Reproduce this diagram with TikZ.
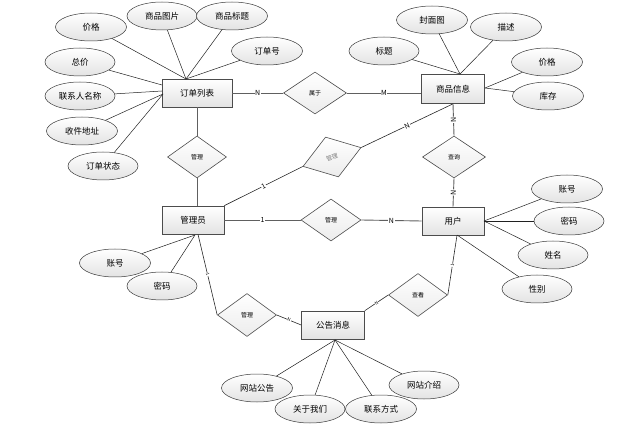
\documentclass[tikz,border=0pt]{standalone}
\usepackage{fontspec}
\setmainfont{Noto Sans CJK SC}
\usetikzlibrary{shapes.geometric}
\begin{document}
\begin{tikzpicture}[x=1pt,y=-1pt,
 ent/.style={rectangle, draw=gray!60!black, line width=0.7pt, top color=white, bottom color=gray!22, minimum width=#1, minimum height=28pt, inner sep=0pt, font=\fontsize{8.5}{10}\selectfont},
 attr/.style={ellipse, draw=gray!45!black, line width=0.5pt, top color=white, bottom color=gray!22, minimum width=71pt, minimum height=28pt, inner sep=0pt, font=\fontsize{8.5}{10}\selectfont},
 rel/.style={diamond, draw=gray!60!black, line width=0.6pt, top color=white, bottom color=gray!15, minimum width=60pt, minimum height=42pt, inner sep=0pt, font=\fontsize{6}{7}\selectfont},
 link/.style={draw=gray!75!black, line width=0.9pt},
 thinlink/.style={draw=gray!30!black, line width=0.6pt},
 aline/.style={draw=gray!25!black, line width=0.5pt},
 lab/.style={fill=white, inner sep=0.5pt, font=\fontsize{7}{7}\selectfont},
 tinylab/.style={fill=white, inner sep=0.3pt, font=\fontsize{4.5}{5}\selectfont}]
\useasboundingbox (0,0) rectangle (621,446);

% entities
\node[ent=70pt] (od) at (197,93) {订单列表};
\node[ent=63pt, minimum height=29pt] (sp) at (453,89) {商品信息};
\node[ent=62pt] (adm) at (193,220) {管理员};
\node[ent=62pt] (usr) at (453,221) {用户};
\node[ent=63pt] (ann) at (333,325) {公告消息};

% relations
\node[rel, minimum width=63pt] (d1) at (315,93) {属于};
\node[rel, minimum width=59pt] (d2) at (197,157) {管理};
\node[rel, minimum width=61pt, rotate=18, text=gray] (d3) at (332,157) {管理};
\node[rel] (d4) at (331,220) {管理};
\node[rel, minimum width=63pt] (d5) at (454,157) {查询};
\node[rel, minimum width=59pt, minimum height=43pt] (d6) at (247,315) {管理};
\node[rel, minimum width=59pt, minimum height=43pt] (d7) at (418,295) {查看};

% attributes of 订单列表
\node[attr] (a1) at (91,27) {价格};
\node[attr, minimum width=70pt] (a2) at (162,16) {商品图片};
\node[attr] (a3) at (232,16) {商品标题};
\node[attr] (a4) at (267,51) {订单号};
\node[attr, minimum width=70pt] (a5) at (80,62) {总价};
\node[attr, minimum width=70pt] (a6) at (80,96) {联系人名称};
\node[attr] (a7) at (82,131) {收件地址};
\node[attr, minimum width=70pt] (a8) at (103,166) {订单状态};

% attributes of 商品信息
\node[attr] (b1) at (432,20) {封面图};
\node[attr] (b2) at (506,27) {描述};
\node[attr, minimum width=70pt] (b3) at (384,51) {标题};
\node[attr] (b4) at (547,62) {价格};
\node[attr] (b5) at (548,96) {库存};

% attributes of 用户
\node[attr] (c1) at (567,189) {账号};
\node[attr, minimum width=70pt] (c2) at (569,221) {密码};
\node[attr, minimum width=70pt] (c3) at (553,255) {姓名};
\node[attr, minimum width=70pt] (c4) at (537,289) {性别};

% attributes of 管理员
\node[attr] (e1) at (115,263) {账号};
\node[attr, minimum width=70pt] (e2) at (162,286) {密码};

% attributes of 公告消息
\node[attr] (f1) at (257,388) {网站公告};
\node[attr, minimum width=70pt] (f2) at (310,409) {关于我们};
\node[attr] (f3) at (381,409) {联系方式};
\node[attr, minimum width=70pt] (f4) at (424,385) {网站介绍};

% attachment points
\coordinate (odT) at (186,79);
\coordinate (odL1) at (162,85);
\coordinate (odL2) at (162,91);
\coordinate (odL3) at (163,94);
\coordinate (spT) at (460,74);
\coordinate (spR) at (485,88);
\coordinate (usrR) at (484,221);
\coordinate (usrB) at (457,235);
\coordinate (admB) at (195,235);
\coordinate (annB) at (335,340);

% attribute lines
\foreach \a in {a1,a2,a3,a4} \draw[aline] (\a) -- (odT);
\draw[aline] (a5) -- (odL1);
\draw[aline] (a6) -- (odL2);
\draw[aline] (a7) -- (odL3);
\draw[aline] (a8) -- (odL3);
\foreach \a in {b1,b2,b3} \draw[aline] (\a) -- (spT);
\foreach \a in {b4,b5} \draw[aline] (\a) -- (spR);
\foreach \a in {c1,c2,c3} \draw[aline] (\a) -- (usrR);
\draw[aline] (c4) -- (usrB);
\foreach \a in {e1,e2} \draw[aline] (\a) -- (admB);
\foreach \a in {f1,f2,f3,f4} \draw[aline] (\a) -- (annB);

% relationship lines
\draw[link] (od.east) -- node[lab] {N} (d1.west);
\draw[link] (d1.east) -- node[lab] {M} (sp.west |- d1.east);
\draw[link] (od.south) -- (d2.north);
\draw[link] (d2.south) -- (adm.north -| d2.south);
\draw[thinlink] (adm.north east) -- node[lab, sloped] {1} (d3.west);
\draw[thinlink] (d3.east) -- node[lab, sloped] {N} (sp.south);
\draw[link] (sp.south) -- node[lab, sloped] {N} (d5.north);
\draw[link] (d5.south) -- node[lab, sloped] {N} (usr.north);
\draw[link] (adm.east) -- node[lab] {1} (d4.west);
\draw[link] (d4.east) -- node[lab] {N} (usr.west);
\draw[thinlink] ([xshift=5pt]adm.south) -- node[tinylab, sloped] {1} (d6.west);
\draw[thinlink] (d6.east) -- node[tinylab, sloped] {N} (ann.west);
\draw[thinlink] ([xshift=4pt]usr.south) -- node[tinylab, sloped] {1} (d7.east);
\draw[thinlink] (d7.west) -- node[tinylab, sloped] {N} (ann.north east);
\end{tikzpicture}
\end{document}
